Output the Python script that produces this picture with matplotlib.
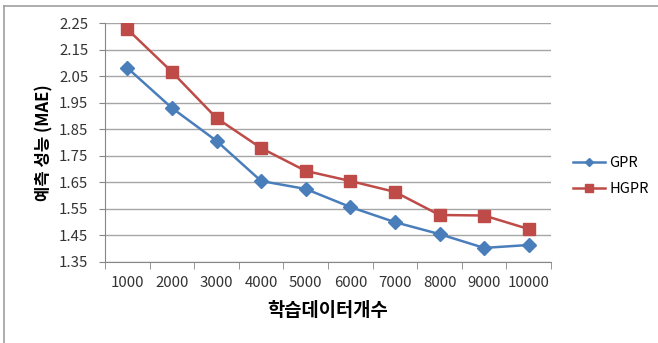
import matplotlib

matplotlib.use("Agg")
import matplotlib.pyplot as plt
from matplotlib.lines import Line2D

plt.rcParams["font.family"] = ["Noto Sans CJK KR", "DejaVu Sans"]

# 학습 데이터 개수별 예측 성능 (MAE)
sizes = ["1000", "2000", "3000", "4000", "5000", "6000", "7000", "8000", "9000", "10000"]
gpr = [2.081, 1.930, 1.806, 1.655, 1.625, 1.557, 1.500, 1.455, 1.403, 1.414]
hgpr = [2.227, 2.066, 1.892, 1.779, 1.693, 1.655, 1.614, 1.527, 1.525, 1.474]
yticks = [1.35, 1.45, 1.55, 1.65, 1.75, 1.85, 1.95, 2.05, 2.15, 2.25]

blue = "#4a7ebb"
red = "#be4b48"

fig = plt.figure(figsize=(6.58, 3.43), dpi=100)
ax = fig.add_axes([0.1596, 0.2362, 0.6778, 0.6967])

x = list(range(len(sizes)))
ax.plot(x, gpr, color=blue, lw=1.8, marker="D", ms=7, label="GPR")
ax.plot(x, hgpr, color=red, lw=1.8, marker="s", ms=8.5, label="HGPR")

ax.set_xlim(-0.5, len(sizes) - 0.5)
ax.set_ylim(1.35, 2.25)
ax.set_yticks(yticks)
ax.set_yticklabels([f"{v:.2f}" for v in yticks])
ax.set_xticks(x)
ax.set_xticklabels(sizes)
ax.set_xticks([i - 0.5 for i in range(len(sizes) + 1)], minor=True)
ax.tick_params(axis="x", which="major", length=0, pad=10, labelsize=10.8, colors="#333333")
ax.tick_params(axis="x", which="minor", length=5, color="#868686", direction="out")
ax.tick_params(axis="y", length=4, color="#868686", labelsize=10.8, colors="#333333", pad=8)
ax.grid(axis="y", color="#a6a6a6", lw=1)
ax.set_axisbelow(True)
for side in ("top", "right"):
    ax.spines[side].set_visible(False)
for side in ("left", "bottom"):
    ax.spines[side].set_color("#868686")

ax.set_xlabel("학습데이터개수", fontsize=13.5, fontweight="bold", labelpad=8)
ax.set_ylabel("예측 성능 (MAE)", fontsize=12, fontweight="bold", labelpad=4)

ax.legend(loc="center left", bbox_to_anchor=(1.02, 0.36), frameon=False,
          fontsize=10.5, handlelength=2.2, handletextpad=0.3, labelspacing=0.8,
          markerscale=0.6)

# chart frame (top and left edges)
fig.add_artist(Line2D([0.006, 1.0], [0.983, 0.983], color="#a0a0a0", lw=1.2))
fig.add_artist(Line2D([0.006, 0.006], [0.0, 0.983], color="#a0a0a0", lw=1.2))

fig.savefig("out.png", dpi=100)
